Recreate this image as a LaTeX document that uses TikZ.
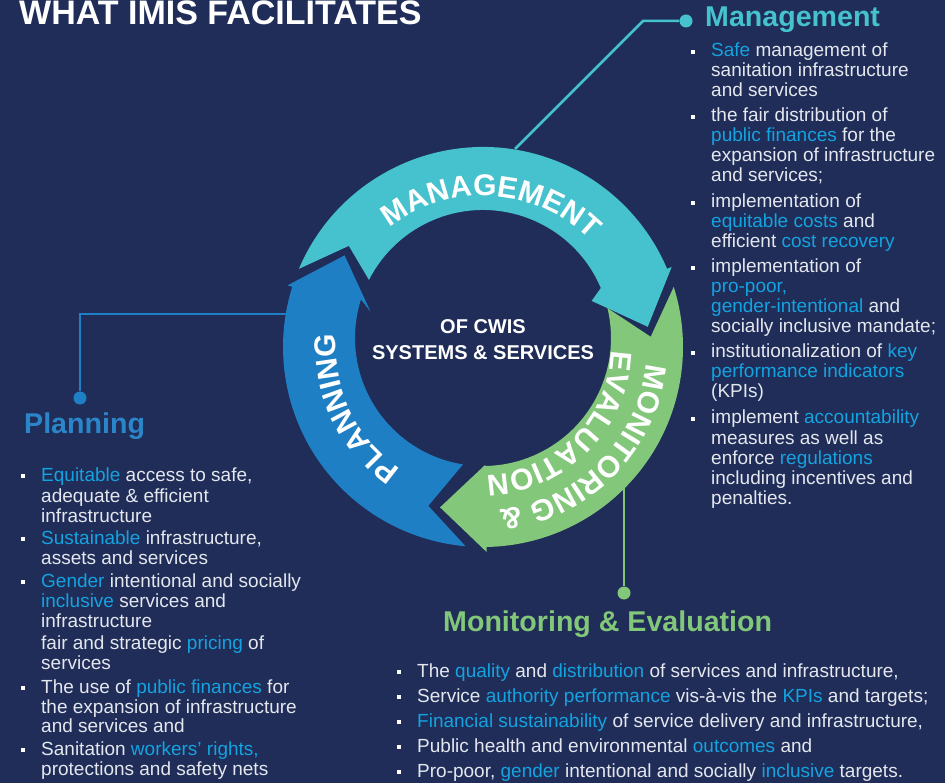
\documentclass[tikz,border=0pt]{standalone}
\usepackage{fontspec}
\setmainfont{Liberation Sans}
\usetikzlibrary{decorations.text}

\definecolor{bg}{HTML}{1F2D58}
\definecolor{cyanc}{HTML}{45C2CD}
\definecolor{bluec}{HTML}{1E7FC4}
\definecolor{plhead}{HTML}{2A86C9}
\definecolor{greenc}{HTML}{83C77A}
\definecolor{hlc}{HTML}{14A3E0}
\definecolor{bodyc}{HTML}{E4E7EE}

\newcommand\hi[1]{\textcolor{hlc}{#1}}
\newcommand\bodyfont{\fontsize{19}{22}\selectfont}
\newcommand\headfont{\fontsize{28.6}{30}\selectfont\bfseries}
\newcommand\titlefont{\fontsize{34}{36}\selectfont\bfseries}
\newcommand\ringfont{\fontsize{30}{30}\selectfont\bfseries}
\newcommand\centfont{\fontsize{20}{26}\selectfont\bfseries}

\newcommand\bline[4]{\node[bodytext] (#1) at (#2,#3) {#4};}
\newcommand\bsq[3]{\node[bulletsq] (#1) at (#2,#3) {};}
% tail angle, head angle, colour (pixel angles, clockwise on screen)
\newcommand\ringarrow[3]{%
  \fill[#3] (#1-2:200) arc[start angle=#1-2, end angle=#2, radius=200]
    -- (#2:205) -- (#2+16:166) -- (#2:118) -- ([shift={(0,-9)}]#2:128)
    arc[start angle=#2, end angle=#1+2, radius=128]
    -- (#1+12:168) -- cycle;}

\begin{document}
\begin{tikzpicture}[x=1pt,y=-1pt,
  bodytext/.style={anchor=base west, inner sep=0, text=bodyc, font=\bodyfont},
  bulletsq/.style={rectangle, fill=white, inner sep=0, minimum size=4.5},
  heading/.style={anchor=base west, inner sep=0, font=\headfont},
  dotnode/.style={circle, inner sep=0, minimum size=13},
  conn/.style={line width=2.5}]
\useasboundingbox (0,0) rectangle (945,783);
\fill[bg] (0,0) rectangle (945,783);

% title
\node[anchor=base west, inner sep=0, font=\titlefont, text=white] (title) at (19,25) {WHAT IMIS FACILITATES};

% connectors
\coordinate (mgring) at (515,149);
\coordinate (mgelbow) at (643,21);
\node[dotnode, fill=cyanc] (mgdot) at (686,21) {};
\draw[conn, cyanc] (mgring) -- (mgelbow) -- (mgdot);

\coordinate (plring) at (290,314);
\node[dotnode, fill=bluec] (pldot) at (80,398) {};
\draw[conn, bluec] (pldot) |- (plring);

\coordinate (mering) at (624,486);
\node[dotnode, fill=greenc] (medot) at (624,593) {};
\draw[conn, greenc] (mering) -- (medot);

% ring
\begin{scope}[shift={(483,347)}]
  \ringarrow{-155}{-23}{cyanc}
  \ringarrow{-15.5}{89}{greenc}
  \ringarrow{97}{197.5}{bluec}
  \path[decorate, decoration={text along path, text align=center, text color=white,
      text={|\ringfont|MANAGEMENT}}]
    (-156.5:151) arc[start angle=-156.5, end angle=-16.5, radius=151];
  \path[decorate, decoration={text along path, text align=center, text color=white,
      text={|\ringfont|PLANNING}}]
    (94.5:147) arc[start angle=94.5, end angle=214.5, radius=147];
  \path[decorate, decoration={text along path, text align=center, text color=white,
      text={|\ringfont|MONITORING {\&}}}]
    (-15:164) arc[start angle=-15, end angle=105, radius=164];
  \path[decorate, decoration={text along path, text align=center, text color=white,
      text={|\ringfont|EVALUATION}}]
    (-15:128) arc[start angle=-15, end angle=105, radius=128];
\end{scope}

\node[align=center, font=\centfont, text=white, inner sep=0] (center) at (483,340) {OF CWIS\\SYSTEMS \& SERVICES};

% headings
\node[heading, text=cyanc] (mgmthead) at (705,27) {Management};
\node[heading, text=plhead] (planhead) at (24,433) {Planning};
\node[heading, text=greenc] (mehead) at (443,631) {Monitoring \& Evaluation};

% management list
\bsq{mb1}{693}{52}
\bline{m1a}{711}{57}{\hi{Safe} management of}
\bline{m1b}{711}{77}{sanitation infrastructure}
\bline{m1c}{711}{97}{and services}
\bsq{mb2}{693}{117}
\bline{m2a}{711}{122}{the fair distribution of}
\bline{m2b}{711}{142}{\hi{public finances} for the}
\bline{m2c}{711}{162}{expansion of infrastructure}
\bline{m2d}{711}{182}{and services;}
\bsq{mb3}{693}{203}
\bline{m3a}{711}{208}{implementation of}
\bline{m3b}{711}{228}{\hi{equitable costs} and}
\bline{m3c}{711}{248}{efficient \hi{cost recovery}}
\bsq{mb4}{693}{268}
\bline{m4a}{711}{273}{implementation of}
\bline{m4b}{711}{293}{\hi{pro-poor,}}
\bline{m4c}{711}{313}{\hi{gender-intentional} and}
\bline{m4d}{711}{333}{socially inclusive mandate;}
\bsq{mb5}{693}{353}
\bline{m5a}{711}{358}{institutionalization of \hi{key}}
\bline{m5b}{711}{378}{\hi{performance indicators}}
\bline{m5c}{711}{398}{(KPIs)}
\bsq{mb6}{693}{419}
\bline{m6a}{711}{424}{implement \hi{accountability}}
\bline{m6b}{711}{444}{measures as well as}
\bline{m6c}{711}{464}{enforce \hi{regulations}}
\bline{m6d}{711}{484}{including incentives and}
\bline{m6e}{711}{504}{penalties.}

% planning list
\bsq{pb1}{23}{476}
\bline{p1a}{41}{481}{\hi{Equitable} access to safe,}
\bline{p1b}{41}{502}{adequate \& efficient}
\bline{p1c}{41}{522}{infrastructure}
\bsq{pb2}{23}{539}
\bline{p2a}{41}{544}{\hi{Sustainable} infrastructure,}
\bline{p2b}{41}{564}{assets and services}
\bsq{pb3}{23}{582}
\bline{p3a}{41}{587}{\hi{Gender} intentional and socially}
\bline{p3b}{41}{607}{\hi{inclusive} services and}
\bline{p3c}{41}{627}{infrastructure}
\bline{p3d}{41}{649}{fair and strategic \hi{pricing} of}
\bline{p3e}{41}{669}{services}
\bsq{pb4}{23}{688}
\bline{p4a}{41}{693}{The use of \hi{public finances} for}
\bline{p4b}{41}{713}{the expansion of infrastructure}
\bline{p4c}{41}{732}{and services and}
\bsq{pb5}{23}{750}
\bline{p5a}{41}{755}{Sanitation \hi{workers’ rights,}}
\bline{p5b}{41}{775}{protections and safety nets}

% M&E list
\bsq{eb1}{399}{672}
\bline{e1}{417}{677}{The \hi{quality} and \hi{distribution} of services and infrastructure,}
\bsq{eb2}{399}{697}
\bline{e2}{417}{702}{Service \hi{authority performance} vis-à-vis the \hi{KPIs} and targets;}
\bsq{eb3}{399}{722}
\bline{e3}{417}{727}{\hi{Financial sustainability} of service delivery and infrastructure,}
\bsq{eb4}{399}{747}
\bline{e4}{417}{752}{Public health and environmental \hi{outcomes} and}
\bsq{eb5}{399}{772}
\bline{e5}{417}{777}{Pro-poor, \hi{gender} intentional and socially \hi{inclusive} targets.}
\end{tikzpicture}
\end{document}
